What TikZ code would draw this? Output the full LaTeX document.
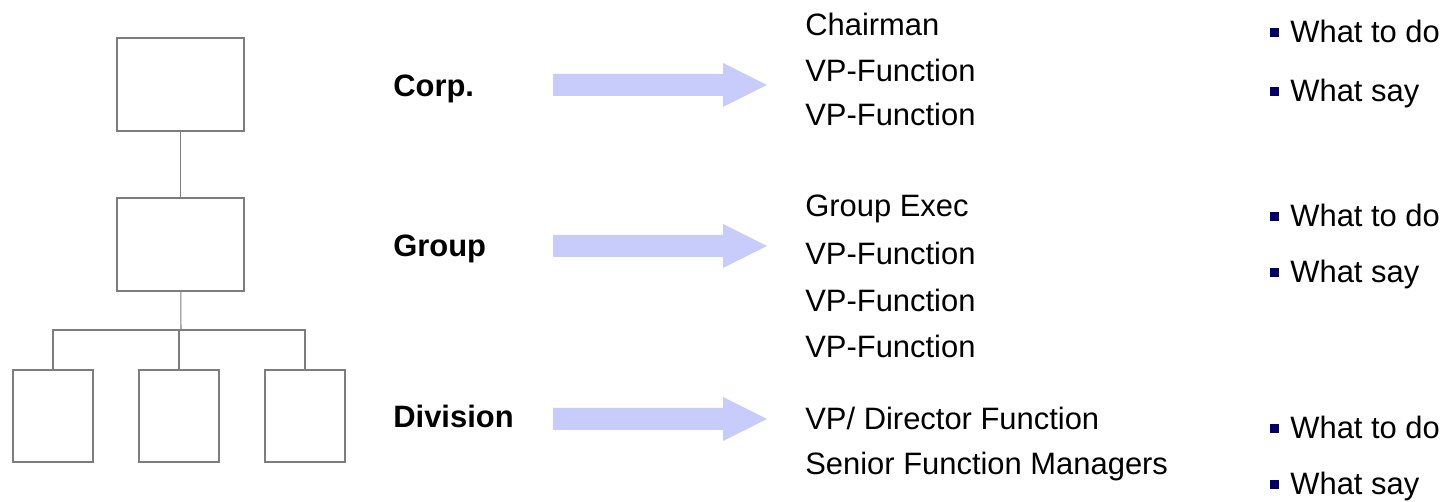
\documentclass[tikz,border=0pt]{standalone}
\usepackage{fontspec}
\setmainfont{Liberation Sans}
\usetikzlibrary{positioning}
\definecolor{arrowblue}{RGB}{199,204,250}
\definecolor{bulletnavy}{RGB}{0,0,102}
\definecolor{boxgray}{RGB}{125,125,125}

\begin{document}
\begin{tikzpicture}[x=0.02cm,y=-0.02cm,
  org box/.style={rectangle,draw=boxgray,line width=0.6pt,inner sep=0pt},
  label text/.style={anchor=base west,inner sep=0pt,font=\fontsize{17.6}{21}\selectfont},
  level text/.style={label text,font=\fontsize{17.6}{21}\selectfont\bfseries},
  bullet/.style={rectangle,fill=bulletnavy,minimum size=0.18cm,inner sep=0pt}]
\tikzstyle{org line} = [draw=boxgray,line width=0.6pt]

\useasboundingbox (0,0) rectangle (1450,502);

% Org chart
\node[org box,minimum width=2.54cm,minimum height=1.86cm] (top) at (180.5,84.5) {};
\node[org box,minimum width=2.54cm,minimum height=1.86cm] (mid) at (180.5,244.5) {};
\node[org box,minimum width=1.6cm,minimum height=1.84cm] (divA) at (53,416) {};
\node[org box,minimum width=1.6cm,minimum height=1.84cm] (divB) at (179,416) {};
\node[org box,minimum width=1.6cm,minimum height=1.84cm] (divC) at (305,416) {};
\coordinate (join) at (181,330);

\draw[org line] (top) -- (mid);
\draw[org line] (mid) -- (join);
\draw[org line] (divA.north) |- (join) -| (divC.north);
\draw[org line] (divB) -- (divB |- join);

% Level names
\foreach \name/\y/\txt in {corp/97/Corp., group/257/Group, division/428/Division}
  \node[level text] (\name) at (393,\y) {\txt};

% Block arrows
\foreach \y in {85,246,419}
  \fill[arrowblue] (553,\y-11) -- (723,\y-11) -- (723,\y-22) -- (767,\y)
    -- (723,\y+22) -- (723,\y+11) -- (553,\y+11) -- cycle;

% Who is involved
\foreach \i/\y/\txt in {1/36/Chairman, 2/82/VP-Function, 3/126/VP-Function,
    4/217/Group Exec, 5/265/VP-Function, 6/312/VP-Function, 7/358/VP-Function,
    8/430/{VP/ Director Function}, 9/475/Senior Function Managers}
  \node[label text] (role\i) at (805,\y) {\txt};

% Bullet points
\foreach \i/\y/\txt in {1/43/What to do, 2/102/What say, 3/227/What to do,
    4/283/What say, 5/439/What to do, 6/495/What say}
{
  \node[bullet] (bullet\i) at (1274.5,\y-10.5) {};
  \node[label text] (point\i) at (1290,\y) {\txt};
}

\end{tikzpicture}
\end{document}
